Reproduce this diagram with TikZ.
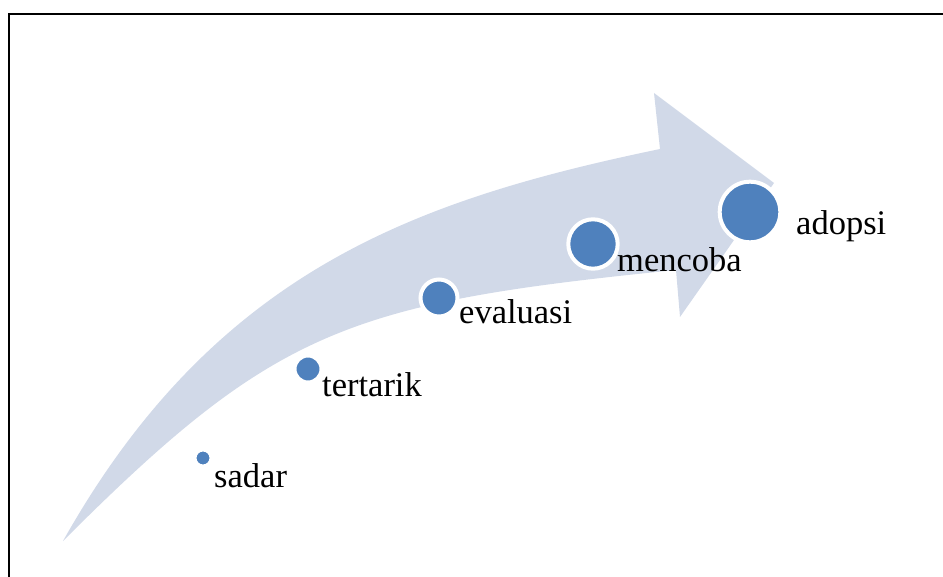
\documentclass[tikz,border=0pt]{standalone}
\usepackage{fontspec}
\setmainfont{Liberation Serif}
\definecolor{arrowfill}{HTML}{D1D9E8}
\definecolor{dotblue}{HTML}{4F81BD}
\tikzset{
  dot/.style={circle, fill=dotblue, draw=white, line width=4pt, inner sep=0pt},
  lbl/.style={anchor=base west, inner sep=0pt, font=\fontsize{34.5}{40}\selectfont}
}
\begin{document}
\begin{tikzpicture}[x=1pt,y=-1pt]
\useasboundingbox (0,0) rectangle (943,577);
% frame
\draw[line width=2pt] (960,14) -- (9,14) -- (9,600);
% curved arrow
\fill[arrowfill]
  (63,541) .. controls (215,271) and (415,200) .. (660,149)
  -- (654,93) -- (774,183) -- (680,317) -- (676,270)
  .. controls (347.6,303) and (275,329) .. (63,541)
  -- cycle;
% dots
\node[dot, minimum size=17pt] (d1) at (203,458) {};
\node[dot, minimum size=27pt] (d2) at (308,369) {};
\node[dot, minimum size=37pt] (d3) at (439,298) {};
\node[dot, minimum size=49.4pt] (d4) at (593,244) {};
\node[dot, minimum size=60.6pt] (d5) at (750,212) {};
% labels
\node[lbl] (l1) at (214,487) {sadar};
\node[lbl] (l2) at (322,397) {tertarik};
\node[lbl] (l3) at (459,324) {evaluasi};
\node[lbl] (l4) at (617,272) {mencoba};
\node[lbl] (l5) at (796,235) {adopsi};
\end{tikzpicture}
\end{document}
